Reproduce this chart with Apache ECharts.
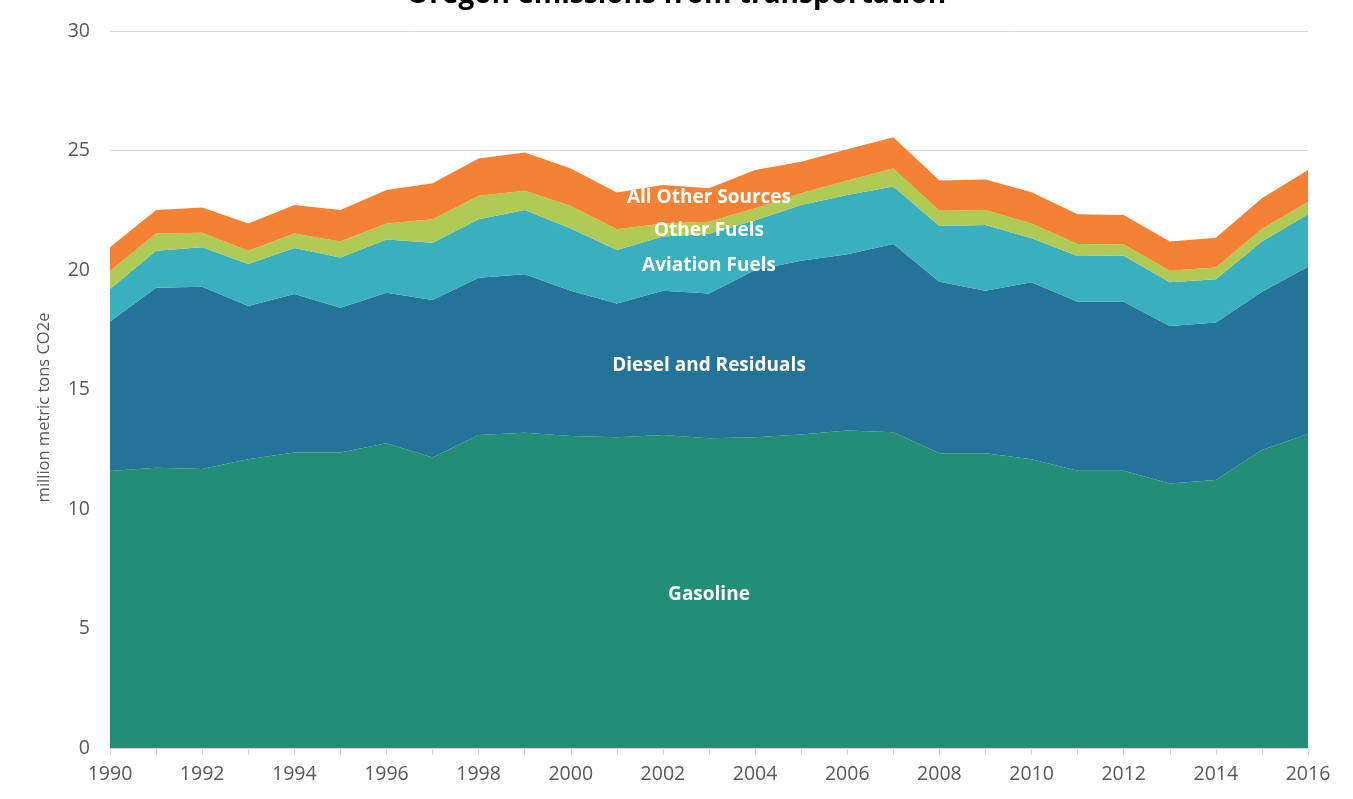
<!DOCTYPE html>
<html>
<head>
<meta charset="utf-8">
<title>Oregon emissions from transportation</title>
<script src="https://cdn.jsdelivr.net/npm/echarts@6/dist/echarts.min.js"></script>
<style>
	html, body { margin: 0; padding: 0; background: #ffffff; }
	#main { width: 1353px; height: 799px; }
</style>
</head>
<body>
<div id="main"></div>
<script>
	//年份
	var years = ["1990", "1991", "1992", "1993", "1994", "1995", "1996", "1997", "1998", "1999",
		"2000", "2001", "2002", "2003", "2004", "2005", "2006", "2007", "2008", "2009",
		"2010", "2011", "2012", "2013", "2014", "2015", "2016"];
	//各类排放 (million metric tons CO2e)
	var gasoline = [11.59, 11.73, 11.67, 12.08, 12.36, 12.36, 12.75, 12.16, 13.10, 13.19,
		13.05, 13.00, 13.10, 12.96, 13.00, 13.12, 13.28, 13.21, 12.33, 12.33,
		12.08, 11.60, 11.60, 11.07, 11.21, 12.47, 13.14];
	var diesel = [6.25, 7.53, 7.63, 6.41, 6.64, 6.06, 6.30, 6.58, 6.58, 6.63,
		6.08, 5.60, 6.03, 6.06, 7.00, 7.27, 7.38, 7.88, 7.18, 6.80,
		7.41, 7.07, 7.07, 6.59, 6.59, 6.62, 7.00];
	var aviation = [1.36, 1.55, 1.65, 1.76, 1.92, 2.10, 2.23, 2.40, 2.44, 2.69,
		2.61, 2.24, 2.27, 2.50, 2.08, 2.33, 2.48, 2.40, 2.33, 2.75,
		1.84, 1.92, 1.93, 1.83, 1.81, 2.10, 2.19];
	var otherFuels = [0.77, 0.72, 0.61, 0.56, 0.61, 0.67, 0.67, 0.98, 0.99, 0.81,
		0.94, 0.86, 0.55, 0.50, 0.50, 0.49, 0.60, 0.76, 0.64, 0.63,
		0.62, 0.50, 0.47, 0.48, 0.49, 0.53, 0.53];
	var allOther = [0.98, 0.98, 1.06, 1.14, 1.19, 1.32, 1.40, 1.51, 1.56, 1.60,
		1.57, 1.54, 1.61, 1.40, 1.60, 1.32, 1.31, 1.30, 1.26, 1.28,
		1.30, 1.24, 1.23, 1.22, 1.25, 1.28, 1.32];
	//y轴刻度
	var yTicks = [0, 5, 10, 15, 20, 25, 30];

	//系列名称与颜色
	var seriesNames = ["Gasoline", "Diesel and Residuals", "Aviation Fuels", "Other Fuels", "All Other Sources"];
	var seriesColors = ["#238e76", "#237498", "#3aafbd", "#b0cb55", "#f58234"];
	var seriesData = [gasoline, diesel, aviation, otherFuels, allOther];
	//区域内文字所在位置 (年份, 数值)
	var labelYears = ["2003", "2003", "2003", "2003", "2003"];
	var labelValues = [6.4, 15.98, 20.17, 21.63, 23.01];

	var myChart = echarts.init(document.getElementById("main"));

	var series = [];
	for (var i = 0; i < seriesData.length; i++) {
		series.push({
			name: seriesNames[i],
			type: "line",
			stack: "total",
			symbol: "none",
			lineStyle: { width: 0 },
			areaStyle: { color: seriesColors[i], opacity: 1 },
			itemStyle: { color: seriesColors[i] },
			z: 2,
			data: seriesData[i],
		});
	}

	var option = {
		animation: false,
		backgroundColor: "#ffffff",
		title: {
			text: "Oregon emissions from transportation",
			left: "center",
			top: -24,
			textStyle: {
				fontFamily: "Open Sans",
				fontWeight: "bold",
				fontSize: 28,
				color: "#000000",
			},
		},
		grid: {
			left: 110,
			right: 45,
			top: 31,
			bottom: 51,
		},
		xAxis: {
			type: "category",
			data: years,
			boundaryGap: false,
			axisLine: { lineStyle: { color: "#d9d9d9", width: 1 } },
			axisTick: {
				show: true,
				interval: 0,
				length: 7,
				lineStyle: { color: "#d9d9d9" },
			},
			axisLabel: {
				interval: 1,
				margin: 16,
				fontFamily: "Open Sans",
				fontSize: 19.5,
				color: "#595959",
			},
			splitLine: { show: false },
		},
		yAxis: {
			type: "value",
			min: yTicks[0],
			max: yTicks[yTicks.length - 1],
			interval: 5,
			name: "million metric tons CO2e",
			nameLocation: "middle",
			nameGap: 57,
			nameTextStyle: {
				fontFamily: "Open Sans",
				fontSize: 16.5,
				color: "#595959",
				padding: [0, 36, 0, 0],
			},
			axisLine: { show: false },
			axisTick: { show: false },
			axisLabel: {
				margin: 20,
				fontFamily: "Open Sans",
				fontSize: 19.5,
				color: "#595959",
			},
			splitLine: { lineStyle: { color: "#d9d9d9", width: 1 } },
		},
		series: series,
	};
	myChart.setOption(option);

	//区域名称文字
	var graphics = [];
	for (var j = 0; j < seriesNames.length; j++) {
		var pt = myChart.convertToPixel({ xAxisIndex: 0, yAxisIndex: 0 }, [labelYears[j], labelValues[j]]);
		graphics.push({
			type: "text",
			x: pt[0],
			y: pt[1],
			z: 10,
			style: {
				text: seriesNames[j],
				fill: "#ffffff",
				fontFamily: "Open Sans",
				fontWeight: "bold",
				fontSize: 19,
				align: "center",
				verticalAlign: "middle",
			},
		});
	}
	myChart.setOption({ graphic: graphics });
</script>
</body>
</html>
